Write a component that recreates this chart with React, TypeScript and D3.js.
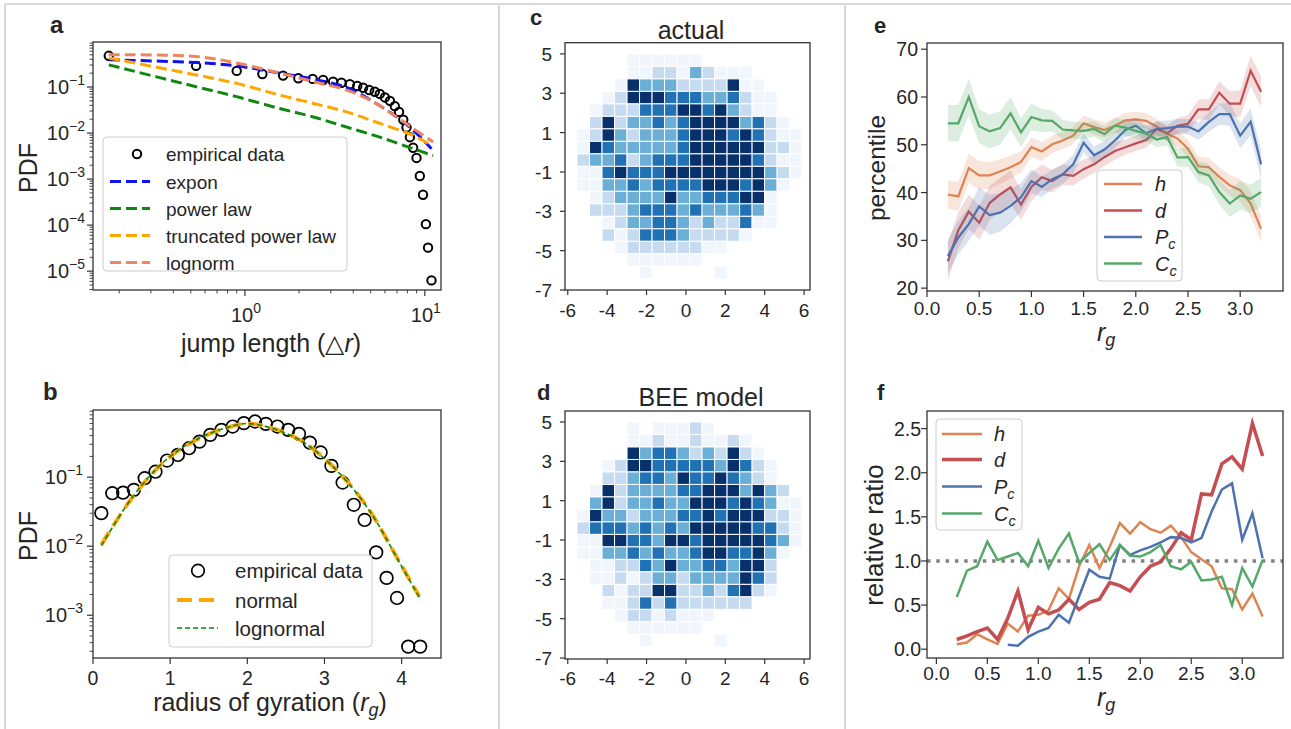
import React from 'react';
import * as d3 from 'd3';

const FONT = "'Liberation Sans', Arial, Helvetica, sans-serif";
const INK = '#262626';
const SPINE = '#333333';
const FRAME = '#d9d9d9';

type Pt = [number, number];
const zip = (xs: number[], ys: number[]): Pt[] => xs.map((x, i) => [x, ys[i]] as Pt);

// ===== Panel a: jump length distribution =====
const jumpX = [0.175, 0.535, 0.9, 1.25, 1.63, 1.98, 2.38, 2.72, 3.09, 3.44, 3.83, 4.21, 4.54, 4.91, 5.27, 5.62, 6.0, 6.4, 6.81, 7.19, 7.59, 7.91, 8.26, 8.61, 8.99, 9.38, 9.77, 10.14, 10.42, 10.89];
const jumpPdf = [0.476, 0.288, 0.224, 0.192, 0.177, 0.155, 0.15, 0.142, 0.131, 0.124, 0.115, 0.105, 0.0966, 0.0859, 0.0791, 0.0708, 0.0594, 0.0501, 0.0384, 0.0288, 0.0195, 0.0132, 0.00813, 0.00479, 0.00288, 0.00117, 0.000457, 0.000105, 0.0000324, 0.0000063];
const exponX = [0.175, 0.535, 0.9, 1.56, 2.4, 3.67, 5.16, 6.97, 8.61, 10.89];
const exponY = [0.39, 0.34, 0.288, 0.2, 0.148, 0.0984, 0.0479, 0.0224, 0.0115, 0.00457];
const powerX = [0.175, 0.535, 0.9, 1.56, 2.4, 3.67, 5.62, 8.61, 11.12];
const powerY = [0.302, 0.1016, 0.0617, 0.0341, 0.0224, 0.0135, 0.00813, 0.00457, 0.00324];
const truncX = [0.175, 0.535, 0.9, 1.56, 2.4, 3.67, 5.62, 8.61, 10.89];
const truncY = [0.427, 0.183, 0.12, 0.0668, 0.044, 0.0288, 0.0162, 0.0089, 0.00537];
const lognX = [0.175, 0.535, 0.9, 1.56, 2.4, 3.67, 5.16, 6.97, 8.61, 11.12];
const lognY = [0.5, 0.46, 0.331, 0.2, 0.131, 0.0859, 0.0479, 0.0224, 0.0126, 0.00638];

// ===== Panel b: radius of gyration =====
const rgEmpX = [0.108, 0.25, 0.39, 0.53, 0.67, 0.81, 0.96, 1.1, 1.245, 1.38, 1.52, 1.665, 1.81, 1.955, 2.1, 2.24, 2.39, 2.53, 2.67, 2.81, 2.95, 3.09, 3.235, 3.38, 3.52, 3.67, 3.805, 3.94, 4.085, 4.24];
const rgEmpPdf = [0.0301, 0.0586, 0.0598, 0.0655, 0.0966, 0.12, 0.174, 0.21, 0.263, 0.327, 0.41, 0.484, 0.541, 0.607, 0.64, 0.592, 0.541, 0.484, 0.424, 0.317, 0.228, 0.146, 0.0836, 0.0398, 0.024, 0.00813, 0.00347, 0.00178, 0.000351, 0.000351];
const normX = [0.108, 0.52, 0.95, 1.38, 1.815, 1.99, 2.25, 2.68, 3.11, 3.55, 3.98, 4.23];
const normY = [0.0105, 0.0525, 0.178, 0.367, 0.553, 0.6, 0.541, 0.347, 0.143, 0.0375, 0.00568, 0.00186];
const lognormY = [0.0102, 0.053, 0.18, 0.37, 0.555, 0.598, 0.54, 0.345, 0.142, 0.037, 0.0056, 0.0018];

// ===== Panels c, d: spatial heatmaps (levels 0-5), rows top->bottom =====
const binX0 = -5.53;
const binY0 = 5.0;
const binSize = 0.635;
const actualGrid = [
  '000011111100000000',
  '000011221321110000',
  '000153332222511000',
  '001255544433421100',
  '012224445545321100',
  '025233434555534210',
  '125323334555454211',
  '154333334555555221',
  '233423444555554211',
  '114544455555555321',
  '113343444455545310',
  '012333353344455100',
  '022234443433343100',
  '001233443232241100',
  '002124443222210000',
  '000122222211000000',
  '000011111100000000',
  '000001000001000000',
];
const beeGrid = [
  '000010111210000000',
  '000011211211210000',
  '000053443232521000',
  '001255444443542100',
  '002234435445432100',
  '015233334455535320',
  '035233433555454311',
  '153323334454555221',
  '244434343555554421',
  '115544355455555431',
  '113343433455445310',
  '011224353344355200',
  '011212332333354200',
  '002122552232452100',
  '001124242222220000',
  '000122121110000000',
  '000011111100000000',
  '000001000001000000',
];
const levels = [1, 2, 3, 4, 5];
const levelColors = ['#f0f6fc', '#c6dbef', '#6baed6', '#2171b5', '#08306b'];
const heatTicksX = [-6, -4, -2, 0, 2, 4, 6];
const heatTicksY = [5, 3, 1, -1, -3, -5, -7];

// ===== Panel e: percentile vs r_g =====
const rgX = [0.2, 0.3, 0.4, 0.5, 0.6, 0.7, 0.8, 0.9, 1.0, 1.1, 1.2, 1.3, 1.4, 1.5, 1.6, 1.7, 1.8, 1.9, 2.0, 2.1, 2.2, 2.3, 2.4, 2.5, 2.6, 2.7, 2.8, 2.9, 3.0, 3.1, 3.2];
const hPct = [39.6, 39.2, 45.1, 43.6, 43.6, 44.4, 45.3, 46.4, 49.5, 48.6, 50.1, 50.9, 51.9, 54.5, 53.7, 53.1, 54.0, 55.1, 55.3, 55.0, 53.8, 52.3, 51.3, 49.2, 45.5, 45.3, 43.3, 41.5, 40.5, 37.7, 32.4];
const dPct = [25.6, 32.1, 36.0, 33.7, 37.8, 39.6, 41.1, 37.5, 41.2, 43.2, 42.4, 43.8, 43.5, 44.9, 45.9, 47.4, 48.7, 49.5, 50.3, 51.0, 53.3, 52.4, 54.0, 54.4, 57.4, 57.4, 60.9, 58.6, 58.6, 65.5, 61.1];
const pcPct = [26.7, 30.6, 33.4, 37.1, 35.3, 35.8, 37.2, 39.0, 42.4, 41.2, 42.8, 43.8, 45.9, 50.4, 47.8, 49.0, 50.9, 53.1, 54.0, 52.4, 53.3, 53.5, 53.8, 53.8, 52.8, 54.8, 56.4, 56.4, 51.9, 54.8, 45.9];
const ccPct = [54.5, 54.5, 60.0, 53.9, 52.8, 53.5, 56.6, 52.6, 55.8, 55.1, 55.0, 53.2, 53.0, 52.9, 53.3, 52.2, 54.0, 53.6, 52.9, 52.3, 51.1, 51.6, 47.3, 47.4, 44.3, 43.6, 40.1, 37.7, 39.4, 38.7, 40.1];
const hCI = [3.0, 3.0, 3.0, 3.0, 2.8, 2.6, 2.4, 2.2, 2.0, 2.0, 1.8, 1.8, 1.8, 1.6, 1.6, 1.6, 1.6, 1.6, 1.6, 1.6, 1.6, 1.6, 1.7, 1.8, 2.0, 2.0, 2.0, 2.2, 2.4, 2.6, 2.8];
const dCI = [4.0, 3.8, 3.6, 3.6, 3.6, 3.5, 3.5, 3.2, 3.0, 2.6, 2.4, 2.2, 2.0, 2.0, 1.8, 1.8, 1.8, 1.6, 1.6, 1.6, 1.6, 1.6, 1.6, 1.8, 2.0, 2.2, 2.4, 2.6, 2.8, 3.2, 3.2];
const pcCI = [3.5, 3.5, 3.5, 4.0, 4.2, 4.0, 3.6, 3.0, 2.5, 2.2, 2.0, 2.0, 2.0, 2.0, 1.8, 1.8, 1.6, 1.6, 1.6, 1.6, 1.6, 1.6, 1.6, 1.6, 1.8, 2.0, 2.2, 2.4, 2.6, 2.8, 3.0];
const ccCI = [3.8, 3.8, 3.8, 3.6, 3.5, 3.5, 3.4, 3.0, 2.8, 2.4, 2.2, 2.0, 1.8, 1.7, 1.6, 1.6, 1.6, 1.6, 1.6, 1.6, 1.6, 1.7, 1.9, 2.0, 2.2, 2.4, 2.6, 2.8, 3.0, 3.0, 3.0];

// ===== Panel f: relative ratio vs r_g =====
const hRatio = [0.057, 0.075, 0.17, 0.11, 0.06, 0.29, 0.2, 0.38, 0.39, 0.44, 0.69, 0.57, 0.94, 1.18, 0.92, 1.16, 1.43, 1.31, 1.44, 1.36, 1.32, 1.4, 1.27, 1.1, 1.02, 0.94, 0.69, 0.68, 0.45, 0.63, 0.37];
const dRatio = [0.11, 0.15, 0.2, 0.24, 0.11, 0.35, 0.66, 0.22, 0.475, 0.4, 0.445, 0.566, 0.45, 0.53, 0.566, 0.754, 0.72, 0.66, 0.82, 0.94, 0.99, 1.14, 1.32, 1.24, 1.76, 1.75, 2.1, 2.18, 2.04, 2.56, 2.19];
const pcRatio: (number | null)[] = [null, null, null, null, null, 0.05, 0.04, 0.14, 0.2, 0.24, 0.39, 0.3, 0.6, 0.9, 0.82, 0.8, 1.18, 1.07, 1.12, 1.16, 1.21, 1.27, 1.26, 1.21, 1.26, 1.56, 1.81, 1.88, 1.24, 1.54, 1.03];
const ccRatio = [0.59, 0.89, 0.94, 1.22, 1.01, 1.05, 1.09, 0.94, 1.23, 0.92, 1.14, 1.31, 0.98, 1.09, 1.19, 1.01, 1.18, 1.06, 1.05, 1.1, 1.18, 0.94, 0.905, 0.99, 0.78, 0.79, 0.82, 0.5, 0.92, 0.71, 1.01];
const eTicksX = [0, 0.5, 1.0, 1.5, 2.0, 2.5, 3.0];
const eTicksY = [20, 30, 40, 50, 60, 70];
const fTicksY = [0, 0.5, 1.0, 1.5, 2.0, 2.5];

const C_H = '#dd8452';
const C_D = '#c44e52';
const C_P = '#4c72b0';
const C_C = '#55a868';

function logTicks(dom: number[]) {
  const majors: number[] = [];
  const minors: number[] = [];
  const e0 = Math.floor(Math.log10(dom[0]));
  const e1 = Math.ceil(Math.log10(dom[1]));
  for (let e = e0; e <= e1; e++) {
    for (let k = 1; k < 10; k++) {
      const v = k * Math.pow(10, e);
      if (v >= dom[0] && v <= dom[1]) (k === 1 ? majors : minors).push(v);
    }
  }
  return { majors, minors };
}

const Box = ({ L, R, T, B }: any) => (
  <rect x={L} y={T} width={R - L} height={B - T} fill="none" stroke={SPINE} strokeWidth={1.3} />
);

const Pow10 = ({ x, y, v, anchor }: any) => {
  const e = Math.round(Math.log10(v));
  const s = e < 0 ? '\u2212' + Math.abs(e) : String(e);
  return (
    <text x={x} y={y} textAnchor={anchor} fontSize={20} fill={INK}>
      10<tspan dy={-9} fontSize={14}>{s}</tspan>
    </text>
  );
};

const Legend = ({ x, y, w, h }: any) => (
  <rect x={x} y={y} width={w} height={h} rx={4} fill="#fff" fillOpacity={0.8} stroke="#cccccc" strokeWidth={1} />
);

function PanelA() {
  const L = 93, R = 441, T = 42, B = 290;
  const x = d3.scaleLog().domain([0.143, 12.3]).range([L, R]);
  const y = d3.scaleLog().domain([3.9e-6, 0.95]).range([B, T]);
  const xt = logTicks(x.domain());
  const yt = logTicks(y.domain());
  const line = d3.line<Pt>().x(d => x(d[0])).y(d => y(d[1])).curve(d3.curveCatmullRom);
  const fits = [
    { name: 'expon', xs: exponX, ys: exponY, color: '#1010f0' },
    { name: 'power law', xs: powerX, ys: powerY, color: '#108810' },
    { name: 'truncated power law', xs: truncX, ys: truncY, color: '#ffa500' },
    { name: 'lognorm', xs: lognX, ys: lognY, color: '#f0845c' },
  ];
  const rowY = [154, 181.5, 208.5, 235.5, 262.5];
  return (
    <g>
      {jumpX.map((v, i) => (
        <circle key={i} cx={x(v)} cy={y(jumpPdf[i])} r={4.2} fill="none" stroke="#000" strokeWidth={2} />
      ))}
      {fits.map(f => (
        <path key={f.name} d={line(zip(f.xs, f.ys)) || ''} fill="none" stroke={f.color} strokeWidth={3} strokeDasharray="11 5" />
      ))}
      <Box L={L} R={R} T={T} B={B} />
      {xt.majors.map(v => <line key={'xm' + v} x1={x(v)} x2={x(v)} y1={B} y2={B + 6} stroke={SPINE} strokeWidth={1.2} />)}
      {xt.minors.map(v => <line key={'xn' + v} x1={x(v)} x2={x(v)} y1={B} y2={B + 3.5} stroke={SPINE} strokeWidth={0.9} />)}
      {yt.majors.map(v => <line key={'ym' + v} x1={L - 6} x2={L} y1={y(v)} y2={y(v)} stroke={SPINE} strokeWidth={1.2} />)}
      {yt.minors.map(v => <line key={'yn' + v} x1={L - 3.5} x2={L} y1={y(v)} y2={y(v)} stroke={SPINE} strokeWidth={0.9} />)}
      {xt.majors.map(v => <Pow10 key={'xl' + v} x={x(v) + 1} y={322} v={v} anchor="middle" />)}
      {yt.majors.map(v => <Pow10 key={'yl' + v} x={85} y={y(v) + 7} v={v} anchor="end" />)}
      <text x={271} y={352} textAnchor="middle" fontSize={25} fill={INK}>
        jump length (△<tspan fontStyle="italic">r</tspan>)
      </text>
      <text transform="translate(37,168) rotate(-90)" textAnchor="middle" fontSize={25} fill={INK}>PDF</text>
      <text x={50} y={33} fontSize={24} fontWeight="bold" fill={INK}>a</text>
      <Legend x={103} y={137} w={244} h={134} />
      <circle cx={137} cy={rowY[0]} r={4.2} fill="none" stroke="#000" strokeWidth={2} />
      <text x={166} y={rowY[0] + 7} fontSize={19} fill={INK}>empirical data</text>
      {fits.map((f, i) => (
        <g key={'lg' + f.name}>
          <line x1={110} x2={150} y1={rowY[i + 1]} y2={rowY[i + 1]} stroke={f.color} strokeWidth={3} strokeDasharray="11 5" />
          <text x={166} y={rowY[i + 1] + 7} fontSize={19} fill={INK}>{f.name}</text>
        </g>
      ))}
    </g>
  );
}

function PanelB() {
  const L = 93, R = 441, T = 410, B = 658;
  const x = d3.scaleLinear().domain([0, 4.51]).range([L, R]);
  const y = d3.scaleLog().domain([2.4e-4, 0.94]).range([B, T]);
  const yt = logTicks(y.domain());
  const line = d3.line<Pt>().x(d => x(d[0])).y(d => y(d[1])).curve(d3.curveCatmullRom);
  const rowY = [570.7, 600, 628];
  return (
    <g>
      {rgEmpX.map((v, i) => (
        <circle key={i} cx={x(v)} cy={y(rgEmpPdf[i])} r={6.3} fill="none" stroke="#000" strokeWidth={1.7} />
      ))}
      <path d={line(zip(normX, normY)) || ''} fill="none" stroke="#ffa500" strokeWidth={4} strokeDasharray="15 7" />
      <path d={line(zip(normX, lognormY)) || ''} fill="none" stroke="#108810" strokeWidth={1.6} strokeDasharray="5 3" />
      <Box L={L} R={R} T={T} B={B} />
      {[0, 1, 2, 3, 4].map(v => (
        <g key={'xb' + v}>
          <line x1={x(v)} x2={x(v)} y1={B} y2={B + 6} stroke={SPINE} strokeWidth={1.2} />
          <text x={x(v)} y={685} textAnchor="middle" fontSize={19.5} fill={INK}>{v}</text>
        </g>
      ))}
      {yt.majors.map(v => <line key={'ym' + v} x1={L - 6} x2={L} y1={y(v)} y2={y(v)} stroke={SPINE} strokeWidth={1.2} />)}
      {yt.minors.map(v => <line key={'yn' + v} x1={L - 3.5} x2={L} y1={y(v)} y2={y(v)} stroke={SPINE} strokeWidth={0.9} />)}
      {yt.majors.map(v => <Pow10 key={'yl' + v} x={83} y={y(v) + 7} v={v} anchor="end" />)}
      <text x={270} y={711} textAnchor="middle" fontSize={25} fill={INK}>
        radius of gyration (<tspan fontStyle="italic">r</tspan><tspan fontStyle="italic" fontSize={18} dy={5}>g</tspan><tspan dy={-5}>)</tspan>
      </text>
      <text transform="translate(37,536) rotate(-90)" textAnchor="middle" fontSize={25} fill={INK}>PDF</text>
      <text x={43} y={400} fontSize={24} fontWeight="bold" fill={INK}>b</text>
      <Legend x={169} y={555} w={203} h={92} />
      <circle cx={198} cy={rowY[0]} r={6.3} fill="none" stroke="#000" strokeWidth={1.7} />
      <text x={235} y={rowY[0] + 7.5} fontSize={20.5} fill={INK}>empirical data</text>
      <line x1={177} x2={218} y1={rowY[1]} y2={rowY[1]} stroke="#ffa500" strokeWidth={4} strokeDasharray="15 7" />
      <text x={235} y={rowY[1] + 7.5} fontSize={20.5} fill={INK}>normal</text>
      <line x1={177} x2={218} y1={rowY[2]} y2={rowY[2]} stroke="#108810" strokeWidth={1.6} strokeDasharray="5 3" />
      <text x={235} y={rowY[2] + 7.5} fontSize={20.5} fill={INK}>lognormal</text>
    </g>
  );
}

function Heat({ grid, T, B, yDom, title, titleX, titleY, letter, letterX, letterY, xLabelY }: any) {
  const L = 565, R = 810;
  const x = d3.scaleLinear().domain([-6.14, 6.3]).range([L, R]);
  const y = d3.scaleLinear().domain(yDom).range([B, T]);
  const color = d3.scaleOrdinal<number, string>().domain(levels).range(levelColors);
  const cells: any[] = [];
  (grid as string[]).forEach((row, j) => {
    row.split('').forEach((ch, i) => {
      const lv = +ch;
      if (lv > 0) {
        const x0 = binX0 + i * binSize;
        const yTop = binY0 - j * binSize;
        cells.push(
          <rect key={i + '-' + j} x={x(x0)} y={y(yTop)} width={x(x0 + binSize) - x(x0)} height={y(yTop - binSize) - y(yTop)}
            fill={color(lv)} stroke="#fff" strokeWidth={1} />
        );
      }
    });
  });
  return (
    <g>
      {cells}
      <Box L={L} R={R} T={T} B={B} />
      {heatTicksX.map(v => (
        <g key={'hx' + v}>
          <line x1={x(v)} x2={x(v)} y1={B} y2={B + 5} stroke={SPINE} strokeWidth={1.2} />
          <text x={x(v)} y={xLabelY} textAnchor="middle" fontSize={19} fill={INK}>{String(v)}</text>
        </g>
      ))}
      {heatTicksY.map(v => (
        <g key={'hy' + v}>
          <line x1={L - 5} x2={L} y1={y(v)} y2={y(v)} stroke={SPINE} strokeWidth={1.2} />
          <text x={552} y={y(v) + 7} textAnchor="end" fontSize={19} fill={INK}>{String(v)}</text>
        </g>
      ))}
      <text x={titleX} y={titleY} textAnchor="middle" fontSize={25} fill={INK}>{title}</text>
      <text x={letterX} y={letterY} fontSize={22} fontWeight="bold" fill={INK}>{letter}</text>
    </g>
  );
}

const SeriesLabel = ({ x, y, main, sub, size }: any) => (
  <text x={x} y={y} fontSize={size} fill={INK} fontStyle="italic">
    {main}
    {sub ? <tspan fontSize={size * 0.72} dy={5}>{sub}</tspan> : null}
  </text>
);

function PanelE() {
  const L = 927, R = 1283, T = 43, B = 291;
  const x = d3.scaleLinear().domain([0, 3.41]).range([L, R]);
  const y = d3.scaleLinear().domain([19.4, 71.3]).range([B, T]);
  const line = d3.line<Pt>().x(d => x(d[0])).y(d => y(d[1]));
  const area = d3.area<[number, number, number]>().x(d => x(d[0])).y0(d => y(d[1] - d[2])).y1(d => y(d[1] + d[2]));
  const series = [
    { k: 'h', sub: '', vals: hPct, ci: hCI, color: C_H },
    { k: 'd', sub: '', vals: dPct, ci: dCI, color: C_D },
    { k: 'P', sub: 'c', vals: pcPct, ci: pcCI, color: C_P },
    { k: 'C', sub: 'c', vals: ccPct, ci: ccCI, color: C_C },
  ];
  const rowY = [184, 210.5, 237, 263.5];
  return (
    <g>
      {series.map(s => (
        <g key={'s' + s.k}>
          <path d={area(rgX.map((v, i) => [v, s.vals[i], s.ci[i]] as [number, number, number])) || ''} fill={s.color} fillOpacity={0.2} stroke="none" />
          <path d={line(zip(rgX, s.vals)) || ''} fill="none" stroke={s.color} strokeWidth={2.2} />
        </g>
      ))}
      <Box L={L} R={R} T={T} B={B} />
      {eTicksX.map(v => (
        <g key={'ex' + v}>
          <line x1={x(v)} x2={x(v)} y1={B} y2={B + 6} stroke={SPINE} strokeWidth={1.2} />
          <text x={x(v)} y={315} textAnchor="middle" fontSize={19} fill={INK}>{d3.format('.1f')(v)}</text>
        </g>
      ))}
      {eTicksY.map(v => (
        <g key={'ey' + v}>
          <line x1={L - 6} x2={L} y1={y(v)} y2={y(v)} stroke={SPINE} strokeWidth={1.2} />
          <text x={918} y={y(v) + 7} textAnchor="end" fontSize={19.5} fill={INK}>{v}</text>
        </g>
      ))}
      <text x={1097} y={341} fontSize={25} fill={INK} fontStyle="italic">r<tspan fontSize={18} dy={5}>g</tspan></text>
      <text transform="translate(885,168) rotate(-90)" textAnchor="middle" fontSize={24.5} fill={INK}>percentile</text>
      <text x={874} y={33} fontSize={22} fontWeight="bold" fill={INK}>e</text>
      <Legend x={1097} y={170} w={85} h={111} />
      {series.map((s, i) => (
        <g key={'el' + s.k}>
          <line x1={1104} x2={1142} y1={rowY[i]} y2={rowY[i]} stroke={s.color} strokeWidth={2.5} />
          <SeriesLabel x={1155} y={rowY[i] + 7} main={s.k} sub={s.sub} size={20} />
        </g>
      ))}
    </g>
  );
}

function PanelF() {
  const L = 927, R = 1283, T = 411, B = 658;
  const x = d3.scaleLinear().domain([-0.092, 3.4]).range([L, R]);
  const y = d3.scaleLinear().domain([-0.1, 2.7]).range([B, T]);
  const line = d3.line<[number, number | null]>().defined(d => d[1] != null).x(d => x(d[0])).y(d => y(d[1] as number));
  const series = [
    { k: 'h', sub: '', vals: hRatio as (number | null)[], color: C_H, w: 2.5 },
    { k: 'd', sub: '', vals: dRatio as (number | null)[], color: C_D, w: 3.5 },
    { k: 'P', sub: 'c', vals: pcRatio, color: C_P, w: 2.5 },
    { k: 'C', sub: 'c', vals: ccRatio as (number | null)[], color: C_C, w: 2.5 },
  ];
  const rowY = [434, 459.5, 486.5, 513.5];
  return (
    <g>
      <line x1={L} x2={R} y1={y(1)} y2={y(1)} stroke="#808080" strokeWidth={3.5} strokeDasharray="3.5 5.8" />
      {series.map(s => (
        <path key={'f' + s.k} d={line(rgX.map((v, i) => [v, s.vals[i]] as [number, number | null])) || ''} fill="none" stroke={s.color} strokeWidth={s.w} />
      ))}
      <Box L={L} R={R} T={T} B={B} />
      {eTicksX.map(v => (
        <g key={'fx' + v}>
          <line x1={x(v)} x2={x(v)} y1={B} y2={B + 6} stroke={SPINE} strokeWidth={1.2} />
          <text x={x(v)} y={680} textAnchor="middle" fontSize={19} fill={INK}>{d3.format('.1f')(v)}</text>
        </g>
      ))}
      {fTicksY.map(v => (
        <g key={'fy' + v}>
          <line x1={L - 6} x2={L} y1={y(v)} y2={y(v)} stroke={SPINE} strokeWidth={1.2} />
          <text x={921} y={y(v) + 7} textAnchor="end" fontSize={19.5} fill={INK}>{d3.format('.1f')(v)}</text>
        </g>
      ))}
      <text x={1097} y={706} fontSize={25} fill={INK} fontStyle="italic">r<tspan fontSize={18} dy={5}>g</tspan></text>
      <text transform="translate(883,535) rotate(-90)" textAnchor="middle" fontSize={26} fill={INK}>relative ratio</text>
      <text x={877} y={400} fontSize={22} fontWeight="bold" fill={INK}>f</text>
      <Legend x={936} y={419} w={86} h={111} />
      {series.map((s, i) => (
        <g key={'fl' + s.k}>
          <line x1={942} x2={982} y1={rowY[i]} y2={rowY[i]} stroke={s.color} strokeWidth={s.w} />
          <SeriesLabel x={994} y={rowY[i] + 7} main={s.k} sub={s.sub} size={20} />
        </g>
      ))}
    </g>
  );
}

export default function App() {
  return (
    <svg width={1291} height={729} style={{ position: 'absolute', left: 0, top: 0, background: '#fff' }} fontFamily={FONT}>
      <rect x={0} y={0} width={1291} height={729} fill="#fff" />
      <line x1={5} x2={1291} y1={4} y2={4} stroke={FRAME} strokeWidth={2} />
      <line x1={5} x2={5} y1={4} y2={729} stroke={FRAME} strokeWidth={2} />
      <line x1={499} x2={499} y1={4} y2={729} stroke={FRAME} strokeWidth={2} />
      <line x1={845} x2={845} y1={4} y2={729} stroke={FRAME} strokeWidth={2} />
      <PanelA />
      <PanelB />
      <Heat grid={actualGrid} T={42.7} B={290} yDom={[-7, 5.57]} title="actual" titleX={691} titleY={39}
        letter="c" letterX={530} letterY={25} xLabelY={317} />
      <Heat grid={beeGrid} T={411} B={659} yDom={[-7.05, 5.56]} title="BEE model" titleX={701} titleY={406}
        letter="d" letterX={537} letterY={400} xLabelY={685} />
      <PanelE />
      <PanelF />
    </svg>
  );
}
